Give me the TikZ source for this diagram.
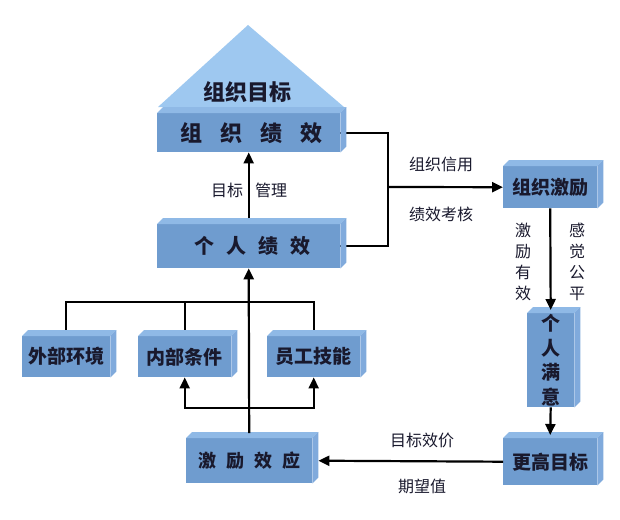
\documentclass[tikz,border=0pt]{standalone}
\usepackage{fontspec}
\setmainfont{Noto Sans CJK SC}
\usetikzlibrary{arrows.meta,calc}
\definecolor{frontc}{RGB}{111,156,207}
\definecolor{topc}{RGB}{143,185,230}
\definecolor{sidec}{RGB}{128,170,220}
\definecolor{tric}{RGB}{158,200,240}
\definecolor{txtc}{RGB}{25,25,45}
\pgfdeclarelayer{bg}
\pgfsetlayers{bg,main}
\newcommand\boxfaces[1]{%
  \fill[topc] (#1.north west) -- ([shift={(6pt,6pt)}]#1.north west) -- ([shift={(6pt,6pt)}]#1.north east) -- (#1.north east) -- cycle;
  \fill[sidec] (#1.north east) -- ([shift={(6pt,6pt)}]#1.north east) -- ([shift={(6pt,6pt)}]#1.south east) -- (#1.south east) -- cycle;}
\newcommand\fs[2]{\fontsize{#1pt}{#2pt}\selectfont}
\begin{document}
\begin{tikzpicture}[x=1pt,y=-1pt,
  line/.style={line width=2.2pt},
  arr/.style={line width=2.2pt,-{Triangle[length=11pt,width=10pt]}},
  box/.style={fill=frontc,inner sep=0pt,anchor=north west,text=txtc,align=center,font=\bfseries\fs{19}{24.5}},
  lab/.style={font=\fs{16}{21},text=txtc,align=center,inner sep=0pt}]
\useasboundingbox (0,0) rectangle (620,519);

% pyramid
\fill[tric] (158,107) -- (248,25) -- (344,107) -- cycle;
\node[font=\bfseries\fs{22}{26},text=txtc,inner sep=0pt] (goal) at (247,92) {组织目标};

% boxes
\node[box,minimum width=183pt,minimum height=39pt,font=\bfseries\fs{22}{26}] (org) at (157,113) {\hspace{6pt}组\hspace{18pt}织\hspace{18pt}绩\hspace{18pt}效};
\boxfaces{org}
\node[box,minimum width=183pt,minimum height=44pt,font=\bfseries\fs{20}{24}] (indPerf) at (157,224) {\hspace{8pt}个\hspace{12pt}人\hspace{12pt}绩\hspace{12pt}效};
\boxfaces{indPerf}
\node[box,minimum width=94pt,minimum height=42pt] (orgInc) at (503,166) {组织激励};
\boxfaces{orgInc}
\node[box,minimum width=47pt,minimum height=94pt] (indSat) at (527,313) {个\\人\\满\\意};
\boxfaces{indSat}
\node[box,minimum width=94pt,minimum height=47pt] (higher) at (503,438) {更高目标};
\boxfaces{higher}
\node[box,minimum width=126pt,minimum height=45pt,font=\bfseries\fs{18}{22}] (effect) at (186,438) {激\hspace{10pt}励\hspace{10pt}效\hspace{10pt}应};
\boxfaces{effect}
\node[box,minimum width=88pt,minimum height=41pt] (ext) at (22,336) {外部环境};
\boxfaces{ext}
\node[box,minimum width=93pt,minimum height=41pt] (internal) at (138,336) {内部条件};
\boxfaces{internal}
\node[box,minimum width=93pt,minimum height=41pt] (staff) at (267,336) {员工技能};
\boxfaces{staff}

% junction coordinates
\coordinate (bus) at (388,187);
\coordinate (ub) at (248,302);
\coordinate (lb) at (248,408);

% background lines
\begin{pgfonlayer}{bg}
\fill[white] (0,0) rectangle (620,519);
\draw[line] (org.east) -- (org.east -| bus) -- (indPerf.east -| bus) -- (indPerf.east);
\draw[line] (ext.north) -- (ext.north |- ub) -- (staff.north |- ub) -- (staff.north);
\draw[line] (internal.north |- ub) -- (internal.north);
\end{pgfonlayer}

% arrows
\draw[arr] ([yshift=6pt]indPerf.north) -- (org.south);
\draw[arr] (bus) -- (orgInc.west);
\draw[arr] (orgInc.south) -- ([yshift=3pt]indSat.north);
\draw[arr] (indSat.south) -- ([yshift=3pt]higher.north);
\draw[arr] (higher.west) -- ([xshift=6pt]effect.east);
\draw[arr] ([yshift=5pt]effect.north) -- (indPerf.south);
\draw[arr] (lb) -| (internal.south);
\draw[arr] (lb) -| (staff.south);

% labels
\node[lab] (l1) at (227,190) {目标};
\node[lab] (l2) at (271,190) {管理};
\node[lab] (l3) at (441,164) {组织信用};
\node[lab] (l4) at (441,214) {绩效考核};
\node[lab] (l5) at (523,262) {激\\励\\有\\效};
\node[lab] (l6) at (577,262) {感\\觉\\公\\平};
\node[lab] (l7) at (422,440) {目标效价};
\node[lab] (l8) at (422,486) {期望值};
\end{tikzpicture}
\end{document}
